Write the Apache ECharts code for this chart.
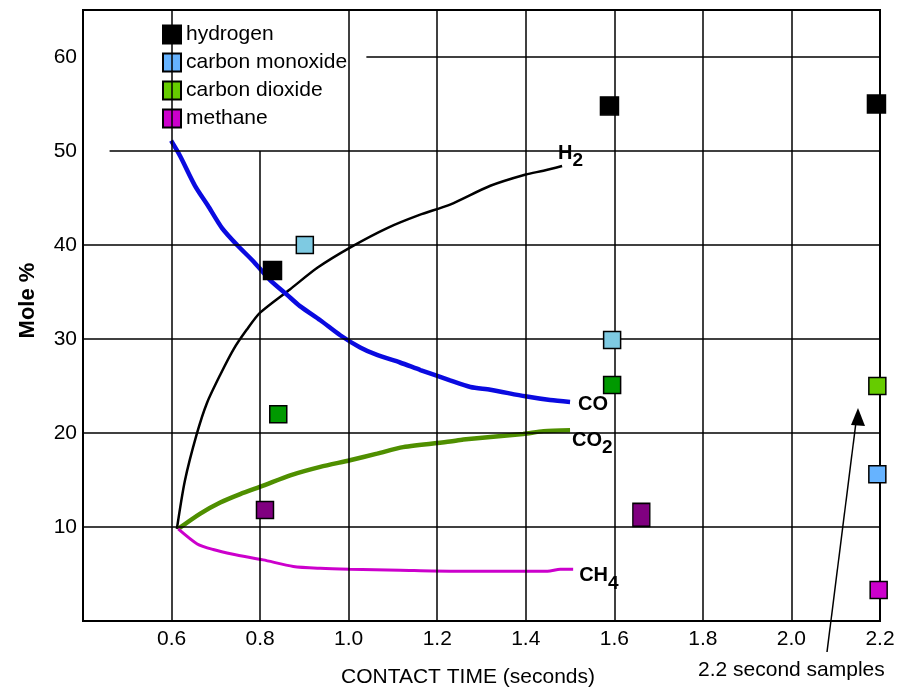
<!DOCTYPE html>
<html>
<head>
<meta charset="utf-8">
<script src="https://cdn.jsdelivr.net/npm/echarts@6/dist/echarts.min.js"></script>
<style>
html,body{margin:0;padding:0;background:#fff;}
#chart{width:907px;height:693px;}
</style>
</head>
<body>
<div id="chart"></div>
<script>
// ---------- data ----------
const xTicks = [0.6, 0.8, 1.0, 1.2, 1.4, 1.6, 1.8, 2.0, 2.2];
const yTicks = [10, 20, 30, 40, 50, 60];
const legendNames = ['hydrogen', 'carbon monoxide', 'carbon dioxide', 'methane'];

// fitted curves (contact time s, mole %)
const h2Curve = [[0.612,9.8],[0.630,14.9],[0.657,19.9],[0.680,23.2],[0.710,26.2],[0.740,28.9],[0.770,31.0],[0.800,32.8],[0.868,35.3],[0.930,37.6],[1.006,39.8],[1.087,41.8],[1.160,43.2],[1.229,44.3],[1.320,46.3],[1.400,47.5],[1.440,47.9],[1.482,48.4]];
const coCurve = [[0.599,51.1],[0.619,49.5],[0.653,46.3],[0.682,44.2],[0.714,41.8],[0.748,40.0],[0.784,38.3],[0.822,36.3],[0.861,34.7],[0.890,33.5],[0.936,32.0],[0.981,30.4],[1.026,29.1],[1.064,28.3],[1.116,27.5],[1.162,26.7],[1.229,25.6],[1.275,24.9],[1.320,24.6],[1.399,23.9],[1.455,23.5],[1.500,23.3]];
const co2Curve = [[0.615,9.8],[0.664,11.4],[0.710,12.6],[0.755,13.5],[0.807,14.4],[0.868,15.5],[0.936,16.4],[1.003,17.1],[1.064,17.8],[1.123,18.5],[1.229,19.1],[1.259,19.3],[1.394,19.9],[1.440,20.2],[1.500,20.3]];
const ch4Curve = [[0.615,9.8],[0.658,8.2],[0.694,7.6],[0.739,7.1],[0.807,6.5],[0.875,5.8],[0.936,5.6],[1.003,5.5],[1.116,5.4],[1.229,5.3],[1.449,5.3],[1.478,5.5],[1.507,5.5]];

// measured samples
const h2Samples   = [[0.828,37.3],[1.589,54.8]];
const coSamples   = [[0.901,40.0],[1.595,29.9]];
const co2Samples  = [[0.841,22.0],[1.595,25.1]];
const ch4Samples  = [[0.811,11.8],[1.661,11.3]];
const h2Samples22  = [[2.192,55.0]];
const coSamples22  = [[2.194,15.6]];
const co2Samples22 = [[2.194,25.0]];
const ch4Samples22 = [[2.197,3.3]];

// ---------- chart ----------
const FONT = 'Liberation Sans, Arial, sans-serif';
const chart = echarts.init(document.getElementById('chart'));

const rich = {
  m: {fontSize: 20, fontWeight: 'bold', fontFamily: FONT, color: '#000'},
  s: {fontSize: 19, fontWeight: 'bold', fontFamily: FONT, color: '#000', padding: [16, 0, 0, 0]}
};

function curve(name, data, color, width, label, offset) {
  return {
    name: name, type: 'line', data: data, smooth: 0.25, showSymbol: false, symbol: 'none',
    lineStyle: {color: color, width: width}, z: 3, silent: true, animation: false,
    endLabel: {show: true, formatter: label, rich: rich, distance: 0, offset: offset}
  };
}
function samples(name, data, color, size) {
  return {
    name: name, type: 'scatter', data: data, symbol: 'rect', symbolSize: size,
    itemStyle: {color: color, borderColor: '#000', borderWidth: 1.5, opacity: 1}, z: 5, animation: false
  };
}

// grid lines drawn from ticks
const gridSegs = [];
xTicks.filter(x => x < 2.2).forEach(x => {
  gridSegs.push([{coord: [x, x === 0.8 ? 50 : 65]}, {coord: [x, 0]}]);
});
yTicks.forEach(y => {
  const start = y === 60 ? 1.04 : (y === 50 ? 0.46 : 0.4);
  gridSegs.push([{coord: [start, y]}, {coord: [2.2, y]}]);
});

const option = {
  backgroundColor: '#fff',
  textStyle: {fontFamily: FONT, color: '#000'},
  grid: {left: 83, right: 27, top: 10, bottom: 71, show: true, borderColor: '#000', borderWidth: 2, backgroundColor: 'transparent'},
  legend: {
    data: legendNames, orient: 'vertical', left: 162, top: 24, padding: 0, icon: 'rect',
    itemWidth: 18, itemHeight: 18, itemGap: 7,
    textStyle: {fontSize: 21, fontFamily: FONT, color: '#000'},
    backgroundColor: 'transparent', selectedMode: false
  },
  xAxis: {
    type: 'value', min: 0.4, max: 2.2, interval: 0.2,
    name: 'CONTACT TIME (seconds)', nameLocation: 'middle', nameGap: 46,
    nameTextStyle: {fontSize: 21, fontFamily: FONT, color: '#000', padding: [0, 27, 0, 0]},
    axisLine: {show: true, lineStyle: {color: '#000', width: 2}},
    axisTick: {show: false}, splitLine: {show: false},
    axisLabel: {fontSize: 21, color: '#000', fontFamily: FONT, margin: 8,
      formatter: v => xTicks.some(t => Math.abs(t - v) < 1e-6) ? v.toFixed(1) : ''}
  },
  yAxis: {
    type: 'value', min: 0, max: 65, interval: 10,
    name: 'Mole %', nameLocation: 'middle', nameGap: 44, nameRotate: 90,
    nameTextStyle: {fontSize: 22, fontWeight: 'bold', fontFamily: FONT, color: '#000', padding: [0, 0, 0, 30]},
    axisLine: {show: true, lineStyle: {color: '#000', width: 2}},
    axisTick: {show: false}, splitLine: {show: false},
    axisLabel: {fontSize: 21, color: '#000', fontFamily: FONT, margin: 6,
      formatter: v => yTicks.includes(v) ? String(v) : ''}
  },
  series: [
    {
      name: 'grid', type: 'line', data: [], z: 1, silent: true, animation: false,
      markLine: {silent: true, symbol: ['none', 'none'], animation: false, label: {show: false},
        lineStyle: {color: '#000', width: 1.5, type: 'solid'}, data: gridSegs}
    },
    curve('H2 curve', h2Curve, '#000000', 2.5, '{m|H}{s|2}', [-4, -13]),
    curve('CO curve', coCurve, '#0a0ae0', 4.5, '{m|CO}', [8, 3]),
    curve('CO2 curve', co2Curve, '#4f8f00', 4.5, '{m|CO}{s|2}', [2, 10]),
    curve('CH4 curve', ch4Curve, '#cc00cc', 3, '{m|CH}{s|4}', [6, 6]),
    samples('hydrogen samples', h2Samples, '#000000', 18),
    samples('carbon monoxide samples', coSamples, '#7ecae2', 17),
    samples('carbon dioxide samples', co2Samples, '#009900', 17),
    samples('methane samples', ch4Samples, '#800080', v => v[0] > 1.65 ? [17, 23] : 17),
    samples('hydrogen', h2Samples22, '#000000', 18),
    samples('carbon monoxide', coSamples22, '#66b3ff', 17),
    samples('carbon dioxide', co2Samples22, '#66cc00', 17),
    samples('methane', ch4Samples22, '#cc00cc', 17)
  ],
  graphic: [
    {type: 'line', shape: {x1: 827, y1: 652, x2: 856, y2: 422}, style: {stroke: '#000', lineWidth: 1.5}, z: 10},
    {type: 'polygon', shape: {points: [[858, 408], [851, 425], [865, 426]]}, style: {fill: '#000'}, z: 10},
    {type: 'text', left: 698, top: 660, style: {text: '2.2 second samples', fontSize: 21, fontFamily: FONT, fill: '#000'}, z: 10}
  ]
};
chart.setOption(option);
</script>
</body>
</html>
